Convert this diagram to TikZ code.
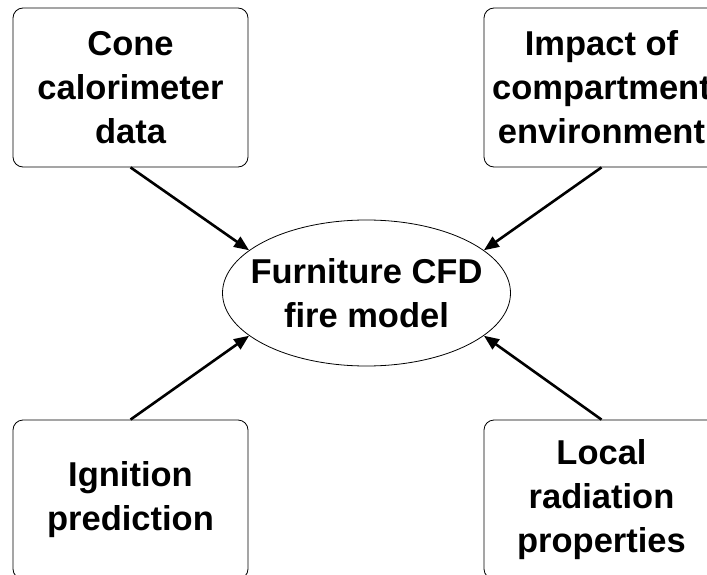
\documentclass[tikz,border=0pt]{standalone}
\usepackage{fontspec}
\setmainfont{Liberation Sans}
\usetikzlibrary{shapes.geometric,arrows.meta}

\tikzset{boite/.style = {draw, rounded corners = 10pt, line width = 0.8pt,
                         minimum width = 235pt, minimum height = 159pt,
                         align = center, font = \fontsize{34.5}{44}\selectfont\bfseries},
         fleche/.style = {-{Triangle[length=15pt, width=12pt]}, line width = 2.6pt}
        }

\begin{document}
\begin{tikzpicture}[x = 1pt, y = -1pt]
\useasboundingbox (0,0) rectangle (707,575);
\node[ellipse, draw, line width = 0.8pt, minimum width = 288pt, minimum height = 146pt] (modele) at (366.5,293) {};
\node[align = center, font = \fontsize{34.5}{44}\selectfont\bfseries] (titre) at (modele.center) {Furniture CFD\\fire model};
\foreach \n/\x/\y/\s/\a/\t in {cone/130.5/87.5/south/160/{Cone\\calorimeter\\data},
                               impact/601.5/87.5/south/20/{Impact of\\compartment\\environment},
                               ignition/130.5/499.5/north/200/{Ignition\\prediction},
                               radiation/601.5/499.5/north/340/{Local\\radiation\\properties}}
   {\node[boite] (\n) at (\x,\y) {\t};
    \draw[fleche] (\n.\s) -- (modele.\a);};
\end{tikzpicture}
\end{document}
